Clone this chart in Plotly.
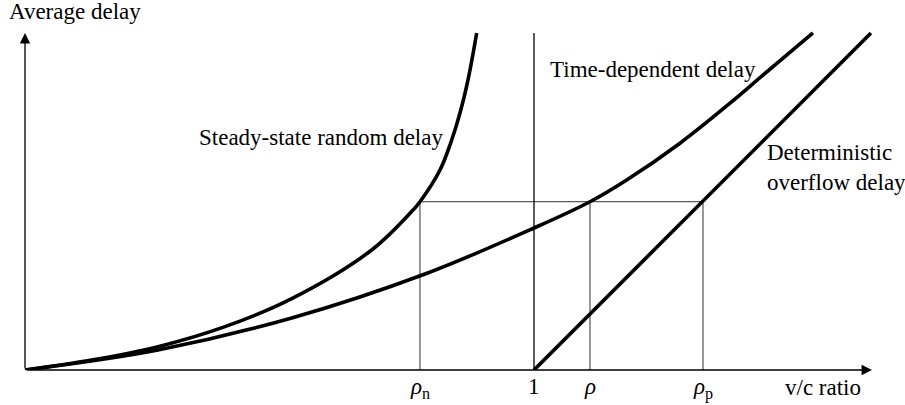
import plotly.graph_objects as go

# v/c ratio (x) and average delay (y) for each delay model
vc_random = [0.0, 0.131, 0.2613, 0.3929, 0.524, 0.6811, 0.7623, 0.776, 0.8153, 0.8383, 0.8546, 0.8703, 0.8874]
delay_random = [0.0, 0.0196, 0.0458, 0.0851, 0.1401, 0.2358, 0.3143, 0.3306, 0.3929, 0.4519, 0.5049, 0.5697, 0.6621]

vc_time = [0.0, 0.2613, 0.524, 0.7859, 1.0, 1.110, 1.1821, 1.2868, 1.3851, 1.4499, 1.5481]
delay_time = [0.0, 0.0393, 0.1022, 0.1886, 0.2790, 0.3306, 0.3733, 0.4456, 0.5242, 0.5794, 0.6621]

vc_det = [1.0, 1.662]
delay_det = [0.0, 0.662]

# reference levels
capacity = 1.0
rho_n = 0.776
rho = 1.110
rho_p = 1.332
delay_level = 0.3306
axis_x_end = 1.664
axis_y_end = 0.662

tick_vals = [rho_n, capacity, rho, rho_p]
tick_text = ["<i>ρ</i><sub>n</sub>", "1", "<i>ρ</i>", "<i>ρ</i><sub>p</sub>"]

FONT = "Liberation Serif"
thick = dict(color="black", width=3.6)
thin = dict(color="#333333", width=1)
axis_line = dict(color="black", width=1.3)

fig = go.Figure()

# thin guide lines
for xv in [rho_n, rho, rho_p]:
    fig.add_trace(go.Scatter(x=[xv, xv], y=[0, delay_level], mode="lines", line=thin))
fig.add_trace(go.Scatter(x=[rho_n, rho_p], y=[delay_level, delay_level], mode="lines", line=thin))
fig.add_trace(go.Scatter(x=[capacity, capacity], y=[0, axis_y_end], mode="lines", line=axis_line))

# delay curves
fig.add_trace(go.Scatter(x=vc_random, y=delay_random, mode="lines", line=dict(shape="spline", **thick)))
fig.add_trace(go.Scatter(x=vc_time, y=delay_time, mode="lines", line=dict(shape="spline", **thick)))
fig.add_trace(go.Scatter(x=vc_det, y=delay_det, mode="lines", line=thick))

annotations = []
# axes drawn as arrows from the origin
for tip in [(axis_x_end, 0), (0, axis_y_end)]:
    annotations.append(dict(x=tip[0], y=tip[1], ax=0, ay=0, xref="x", yref="y", axref="x", ayref="y",
                            showarrow=True, arrowhead=2, arrowsize=1.6, arrowwidth=1.3,
                            arrowcolor="black", text=""))

# tick labels
for xv, txt in zip(tick_vals, tick_text):
    annotations.append(dict(x=xv, y=0, xref="x", yref="y", text=txt, showarrow=False,
                            xanchor="center", yanchor="top", yshift=-2,
                            font=dict(family=FONT, size=23, color="black")))

def label(x, y, txt, ref="data"):
    xr, yr = ("x", "y") if ref == "data" else ("paper", "paper")
    annotations.append(dict(x=x, y=y, xref=xr, yref=yr, text=txt, showarrow=False,
                            xanchor="left", yanchor="middle", align="left",
                            font=dict(family=FONT, size=23, color="black")))

label(-0.0208, 1.0085, "Average delay", ref="paper")
label(0.8763, -0.0479, "v/c ratio", ref="paper")
label(0.338, 0.456, "Steady-state random delay")
label(1.0275, 0.591, "Time-dependent delay")
label(1.4538, 0.398, "Deterministic<br>overflow delay")

fig.update_layout(
    width=905, height=405,
    margin=dict(l=25, r=15, t=15, b=35),
    paper_bgcolor="white", plot_bgcolor="white",
    showlegend=False,
    annotations=annotations,
    xaxis=dict(range=[0, 865 / 509], visible=False),
    yaxis=dict(range=[0, 355 / 509], visible=False),
)

fig.write_html("out.html")
